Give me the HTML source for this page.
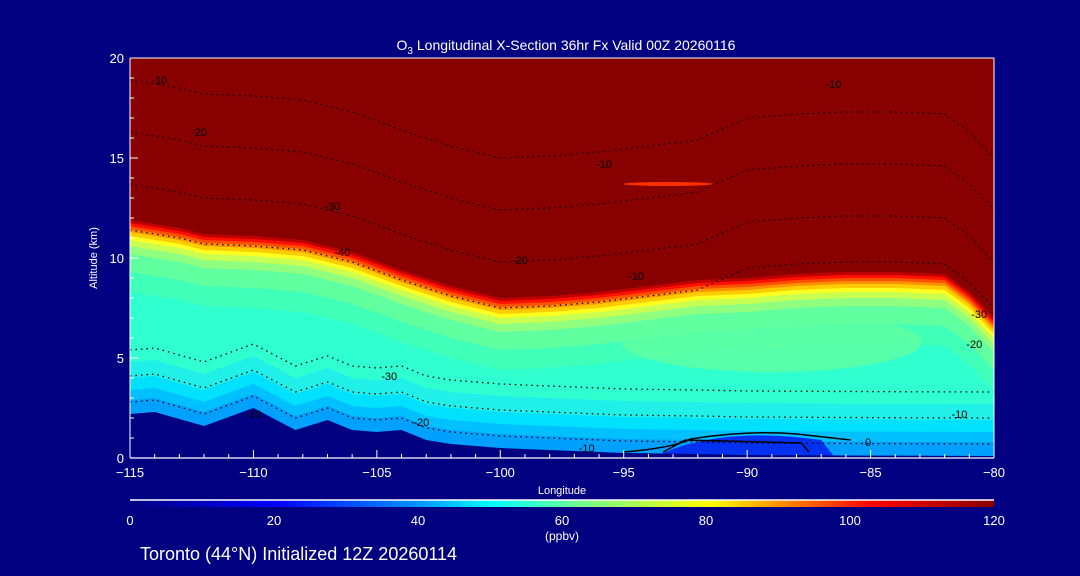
<!DOCTYPE html>
<html><head><meta charset="utf-8"><style>
html,body{margin:0;padding:0;background:#000080;}
svg{display:block;font-family:"Liberation Sans",sans-serif;}
</style></head><body>
<svg id="chart" width="1080" height="576" viewBox="0 0 1080 576" xmlns="http://www.w3.org/2000/svg">
<defs>
<linearGradient id="cbar" x1="0" x2="1" y1="0" y2="0">
<stop offset="0" stop-color="#000080"/><stop offset="0.17" stop-color="#0000ff"/>
<stop offset="0.33" stop-color="#0090ff"/><stop offset="0.42" stop-color="#00ffff"/>
<stop offset="0.52" stop-color="#70ff90"/><stop offset="0.67" stop-color="#ffff00"/>
<stop offset="0.8" stop-color="#ff5000"/><stop offset="0.86" stop-color="#ff0000"/>
<stop offset="1" stop-color="#880000"/></linearGradient>
<clipPath id="pclip"><rect x="130" y="58" width="864" height="400"/></clipPath>
</defs>
<rect x="0" y="0" width="1080" height="576" fill="#000080"/>
<text x="566" y="50" fill="#fff" font-size="14" text-anchor="middle">O<tspan font-size="10" dy="4">3</tspan><tspan dy="-4"> Longitudinal X-Section 36hr  Fx Valid 00Z 20260116</tspan></text>
<g id="plot" clip-path="url(#pclip)"></g>
<g id="axes"></g>
<rect x="130" y="500" width="864" height="7" fill="url(#cbar)"/>
<line x1="130" y1="500" x2="994" y2="500" stroke="#fff" stroke-width="1.5"/>
<g id="cbticks"></g>
<text x="562" y="540" fill="#fff" font-size="12" text-anchor="middle">(ppbv)</text>
<text x="140" y="560" fill="#fff" font-size="18">Toronto (44°N) Initialized 12Z 20260114</text>
</svg>
<script>
const lons = [-115,-113,-112,-110,-108,-106,-104,-102,-100,-98,-96,-94,-92,-90,-88,-86,-84,-82,-81,-80];
const tropo = [11.9,11.5,11.2,11.1,10.9,10.3,9.4,8.6,8.0,8.1,8.3,8.6,8.9,9.0,9.2,9.3,9.3,9.2,8.3,7.0];
const terrLons = [-115,-114,-112,-110,-108.3,-107,-106,-105,-104,-103,-102,-100,-98,-95,-92,-90,-85,-80];
const terrAlt = [2.2,2.3,1.6,2.5,1.4,1.9,1.4,1.3,1.4,0.9,0.7,0.5,0.4,0.25,0.2,0.15,0.12,0.1];
const xTicks = [-115,-110,-105,-100,-95,-90,-85,-80];
const yTicks = [0,5,10,15,20];
const cbTicks = [0,20,40,60,80,100,120];
const contourLevels = [-10,-20,-30,-40];
const contourLabels = [[-113.8,18.9,"-10"],[-112.2,16.3,"-20"],[-106.8,12.6,"-30"],[-106.4,10.3,"-40"],[-95.8,14.7,"-10"],[-86.5,18.7,"-10"],[-99.2,9.9,"-20"],[-94.5,9.1,"-10"],[-104.5,4.1,"-30"],[-110,2.2,"-10"],[-103.2,1.8,"-20"],[-96.5,0.5,"-10"],[-85.1,0.8,"0"],[-80.6,7.2,"-30"],[-80.8,5.7,"-20"],[-81.4,2.2,"-10"]];
const ns="http://www.w3.org/2000/svg";
const X=l=>130+(l+115)*864/35, Y=a=>458-a*20;
const plot=document.getElementById('plot'), axes=document.getElementById('axes');
function mk(t,a,p){const e=document.createElementNS(ns,t);for(const k in a)e.setAttribute(k,a[k]);p.appendChild(e);return e;}
const bg=mk('rect',{x:130,y:58,width:864,height:400,fill:'#880000'},plot);


const bands=[[0,'#c00000'],[0.15,'#ff1000'],[0.3,'#ff5000'],[0.45,'#ff9000'],[0.6,'#ffcc00'],[0.8,'#ffff20'],[1.0,'#c8ff50'],[1.3,'#90ff80'],[1.7,'#60ffa0'],[2.6,'#40ffb8'],[3.6,'#30ffd0']];
bands.forEach(b=>{let pts=lons.map((l,i)=>X(l)+','+Y(tropo[i]-b[0]));pts.push('994,460','130,460');
const p=mk('polygon',{points:pts.join(' '),fill:b[1]},plot);

});
const patch=mk('ellipse',{cx:X(-89),cy:Y(5.8),rx:150,ry:30,fill:'#60ffa0',opacity:0.8},plot);


const low=[[2.6,'#20f0e8'],[1.8,'#00e0ff'],[1.2,'#00c0ff'],[0.7,'#00a0ff']];
low.forEach(b=>{let pts=terrLons.map((l,i)=>X(l)+','+Y(terrAlt[i]+b[0]));pts.push('994,460','130,460');
const p=mk('polygon',{points:pts.join(' '),fill:b[1]},plot);

});
const blob=mk('path',{d:`M${X(-93.5)} ${Y(0.2)} Q${X(-91)} ${Y(1.6)} ${X(-87)} ${Y(0.9)} L${X(-86.5)} ${Y(0.1)} Z`,fill:'#0030f0'},plot);


const streak=mk('ellipse',{cx:X(-93.2),cy:Y(13.7),rx:45,ry:2,fill:'#ff3000'},plot);


contourLevels.forEach((lv,k)=>{const off=[0,2.6,5.2,7.5][k];
let d='M'+lons.map((l,i)=>X(l)+' '+Y(Math.min(19,tropo[i]+7-off+ (i>12?1:0)))).join(' L');
const p=mk('path',{d:d,fill:'none',stroke:'#000','stroke-width':1.3,'stroke-dasharray':'1.5 4'},plot);

});
[[-10],[-20],[-30]].forEach((v,k)=>{let d='M'+terrLons.map((l,i)=>X(l)+' '+Y(terrAlt[i]+0.6+k*1.3)).join(' L');
const p=mk('path',{d:d,fill:'none',stroke:'#000','stroke-width':1.3,'stroke-dasharray':'1.5 4'},plot);

});
const zc=mk('path',{d:`M${X(-95)} ${Y(0.3)} Q${X(-93)} ${Y(0.5)} ${X(-92.3)} ${Y(0.95)} Q${X(-90)} ${Y(1.4)} ${X(-88)} ${Y(1.2)} L${X(-85.8)} ${Y(0.9)} M${X(-93.4)} ${Y(0.3)} L${X(-92.5)} ${Y(0.9)} L${X(-87.8)} ${Y(0.75)} L${X(-87.5)} ${Y(0.3)}`,fill:'none',stroke:'#000','stroke-width':1.5},plot);


const terr=mk('polygon',{points:terrLons.map((l,i)=>X(l)+','+Y(terrAlt[i])).join(' ')+' 994,460 130,460',fill:'#000080'},plot);


contourLabels.forEach(c=>{const t=mk('text',{x:X(c[0]),y:Y(c[1])+4,'font-size':11,fill:'#000','text-anchor':'middle'},plot);t.textContent=c[2];

});
mk('line',{x1:130,y1:458,x2:994,y2:458,stroke:'#fff','stroke-width':1.3},axes);
mk('line',{x1:130,y1:58,x2:994,y2:58,stroke:'#fff','stroke-width':1},axes);
mk('line',{x1:994,y1:58,x2:994,y2:458,stroke:'#fff','stroke-width':1},axes);
mk('line',{x1:130,y1:58,x2:130,y2:458,stroke:'#fff','stroke-width':1},axes);
for(let l=-115;l<=-80;l++){mk('line',{x1:X(l),y1:458,x2:X(l),y2:l%5==0?450:454,stroke:'#fff'},axes);}
for(let a=0;a<=20;a++){mk('line',{x1:130,y1:Y(a),x2:a%5==0?138:134,y2:Y(a),stroke:'#fff'},axes);}
xTicks.forEach(v=>{const t=mk('text',{x:X(v),y:477,fill:'#fff','font-size':13,'text-anchor':'middle'},axes);t.textContent=(v<0?'\u2212'+(-v):v);

});
yTicks.forEach(v=>{const t=mk('text',{x:124,y:Y(v)+5,fill:'#fff','font-size':13,'text-anchor':'end'},axes);t.textContent=v;

});
const xt=mk('text',{x:562,y:494,fill:'#fff','font-size':11,'text-anchor':'middle'},axes);xt.textContent='Longitude';


const yt=mk('text',{x:97,y:258,fill:'#fff','font-size':11,'text-anchor':'middle',transform:'rotate(-90 97 258)'},axes);yt.textContent='Altitude (km)';


const cb=document.getElementById('cbticks');
cbTicks.forEach(v=>{const t=mk('text',{x:130+v*864/120,y:525,fill:'#fff','font-size':13,'text-anchor':'middle'},cb);t.textContent=v;

});
</script>
</body></html>
